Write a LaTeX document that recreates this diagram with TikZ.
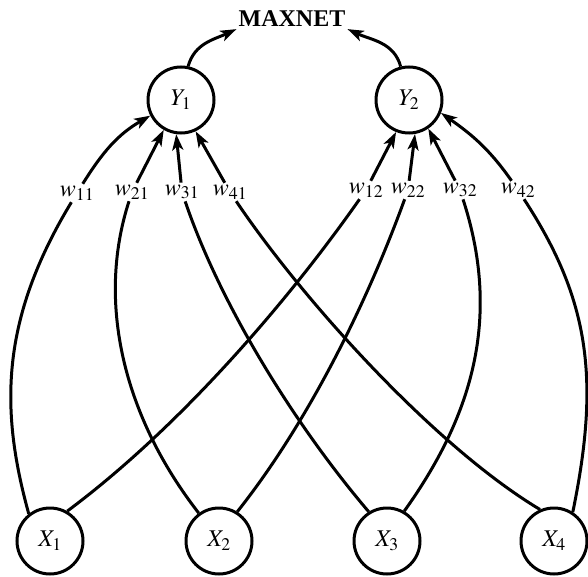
\documentclass[tikz,border=0pt]{standalone}
\usepackage{mathptmx}
\usepackage{fontspec}
\setmainfont{Liberation Serif}
\usetikzlibrary{arrows.meta}

\begin{document}
\begin{tikzpicture}[x=1pt,y=1pt,>={Stealth[length=16pt,width=11pt,inset=4pt]},every node/.style={font=\fontsize{24}{28}\selectfont},unit/.style={draw,circle,line width=3pt,minimum size=66pt,inner sep=0pt},weight/.style={inner sep=2pt},link/.style={line width=3pt},arrow/.style={->,line width=3pt}]
\useasboundingbox (0,0) rectangle (588,-577);
% output layer and MAXNET
\node[font=\fontsize{24}{28}\selectfont\bfseries,inner sep=2pt] (maxnet) at (292,-19) {MAXNET};
\node[unit] (Y1) at (181,-100) {$Y_1$}; \node[unit] (Y2) at (409,-100) {$Y_2$};
\draw[arrow] (Y1.78) to[out=75,in=205] (maxnet.south west); \draw[arrow] (Y2.104) to[out=105,in=-25] (maxnet.south east);
% input layer
\node[unit] (X1) at (50,-541) {$X_1$}; \node[unit] (X2) at (219,-541) {$X_2$}; \node[unit] (X3) at (387,-541) {$X_3$}; \node[unit] (X4) at (554,-541) {$X_4$};
% weight labels
\node[weight] (w11) at (77,-193) {$w_{11}$}; \node[weight] (w21) at (132,-192) {$w_{21}$}; \node[weight] (w31) at (182,-192) {$w_{31}$}; \node[weight] (w41) at (230,-192) {$w_{41}$};
\node[weight] (w12) at (366,-190) {$w_{12}$}; \node[weight] (w22) at (408,-190) {$w_{22}$}; \node[weight] (w32) at (460,-190) {$w_{32}$}; \node[weight] (w42) at (518,-190) {$w_{42}$};
% connections to Y1
\draw[link] (X1.128) .. controls (0,-410) and (0,-320) .. (w11); \draw[arrow] (w11) to[out=58,in=210] (Y1.207);
\draw[link] (X2.126) .. controls (124,-417) and (96,-303) .. (w21); \draw[arrow] (w21) -- (Y1.240);
\draw[link] (X3.122) .. controls (294,-424) and (220,-304) .. (w31); \draw[arrow] (w31) -- (Y1.262);
\draw[link] (X4.114) .. controls (434,-446) and (302,-299) .. (w41); \draw[arrow] (w41) -- (Y1.295);
% connections to Y2
\draw[link] (X1.60) .. controls (171,-434) and (279,-314) .. (w12); \draw[arrow] (w12) -- (Y2.248);
\draw[link] (X2.58) .. controls (310,-420) and (368,-300) .. (w22); \draw[arrow] (w22) -- (Y2.280);
\draw[link] (X3.60) .. controls (476,-411) and (500,-313) .. (w32); \draw[arrow] (w32) -- (Y2.304);
\draw[link] (X4.57) .. controls (600,-380) and (590,-300) .. (w42); \draw[arrow] (w42) to[out=125,in=-35] (Y2.338);
\end{tikzpicture}
\end{document}
